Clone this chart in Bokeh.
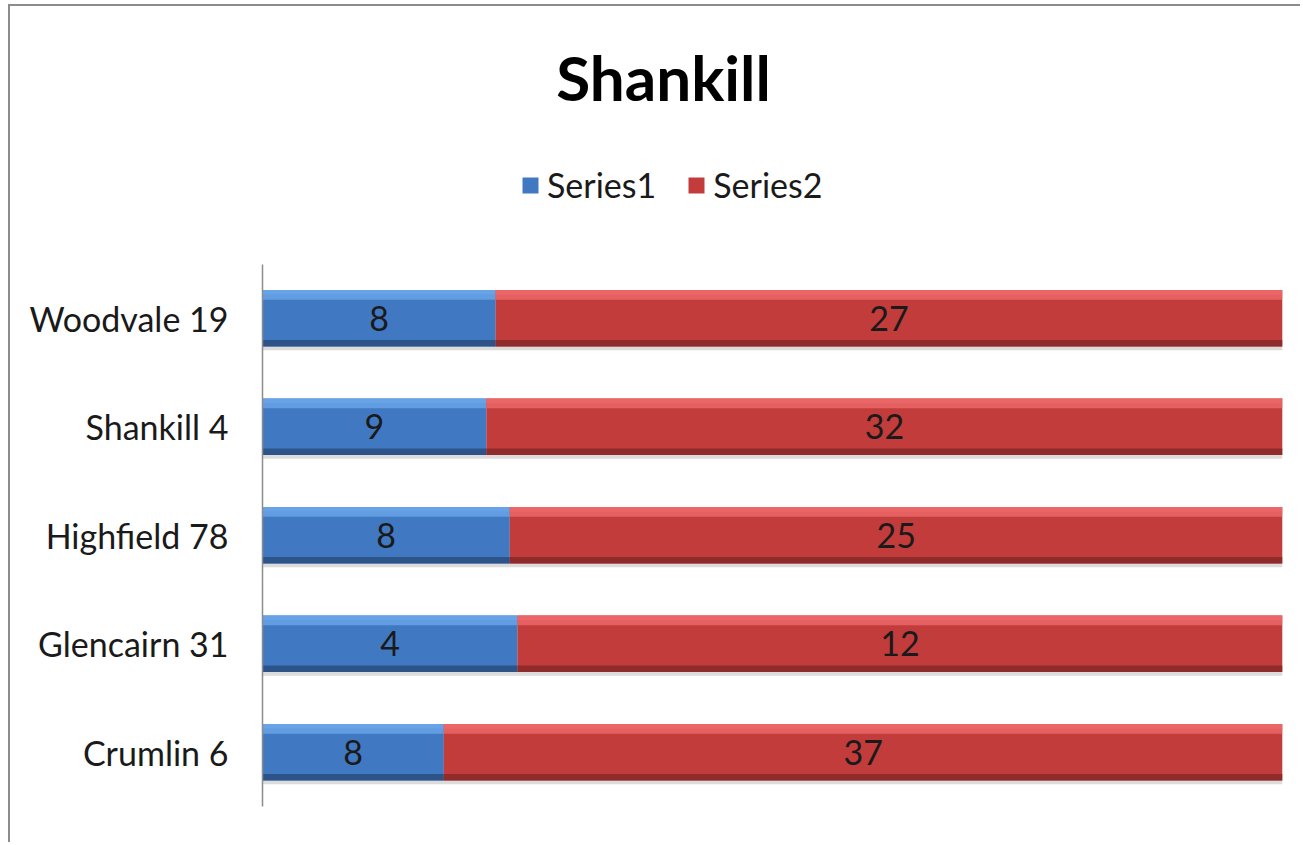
from bokeh.plotting import figure
from bokeh.models import (ColumnDataSource, Range1d, Legend, LegendItem, Label, FixedTicker)
from bokeh.transform import dodge
from bokeh.core.properties import value
from bokeh.embed import file_html
from bokeh.resources import INLINE

# ---- data ----
categories = ["Woodvale 19", "Shankill 4", "Highfield 78", "Glencairn 31", "Crumlin 6"]
series1 = [8, 9, 8, 4, 8]
series2 = [27, 32, 25, 12, 37]
series_names = ["Series1", "Series2"]
title_text = "Shankill"

n = len(categories)
ypos = [n - 1 - i for i in range(n)]          # first category on top
tot = [a + b for a, b in zip(series1, series2)]
f1 = [a / t for a, t in zip(series1, tot)]   # 100% stacked shares
src = ColumnDataSource(dict(
    y=ypos,
    l1=[0.0] * n, r1=f1,
    l2=f1, r2=[1.0] * n,
    m1=[v / 2 for v in f1], m2=[(v + 1) / 2 for v in f1],
    t1=[str(v) for v in series1], t2=[str(v) for v in series2],
))

FONT = "Lato"
W, H = 1292, 838
BORDER_BOTTOM = 38
BAND_PX = 108.5
frame_h = H - BORDER_BOTTOM
y_top = -0.5 + frame_h / BAND_PX

p = figure(width=W, height=H, output_backend="svg", toolbar_location=None,
           y_range=Range1d(-0.5, y_top), x_range=Range1d(0, 1),
           min_border_left=252, min_border_right=20, min_border_top=0,
           min_border_bottom=BORDER_BOTTOM)
p.styles = {"margin-left": "8px", "margin-top": "4px",
            "border-left": "2px solid #8c8c8c", "border-top": "2px solid #8c8c8c"}
p.outline_line_color = None
p.xgrid.visible = False
p.ygrid.visible = False
p.xaxis.visible = False
p.background_fill_color = "white"
p.border_fill_color = "white"

yax = p.yaxis[0]
yax.ticker = FixedTicker(ticks=ypos)
yax.major_label_overrides = {y: c for y, c in zip(ypos, categories)}
yax.bounds = (-0.5, n - 0.5)
yax.axis_line_color = "#8c8c8c"
yax.axis_line_width = 1.5
yax.major_tick_line_color = None
yax.minor_tick_line_color = None
yax.major_tick_out = 0
yax.major_tick_in = 0
yax.major_label_standoff = 34
yax.major_label_text_font = FONT
yax.major_label_text_font_size = "34px"
yax.major_label_text_color = "#1a1a1a"

BH = 0.52
# shadow
p.hbar(y=dodge("y", -0.035), left=0, right=1.003, height=BH, source=src,
       fill_color="#9a9a9a", fill_alpha=0.35, line_color=None)

blue = ("#4079c2", "#6aa6ea", "#2a4d7e")
red = ("#c23c3c", "#ee6a6a", "#872828")
mains = []
for (lk, rk), (main, light, dark) in [(("l1", "r1"), blue), (("l2", "r2"), red)]:
    r = p.hbar(y="y", left=lk, right=rk, height=BH, source=src,
               fill_color=main, line_color=None)
    mains.append(r)
    p.hbar(y=dodge("y", BH / 2 - 0.045), left=lk, right=rk, height=0.09, source=src,
           fill_color=light, fill_alpha=0.8, line_color=None)
    p.hbar(y=dodge("y", BH / 2 - 0.02), left=lk, right=rk, height=0.04, source=src,
           fill_color=light, fill_alpha=0.6, line_color=None)
    p.hbar(y=dodge("y", -BH / 2 + 0.03), left=lk, right=rk, height=0.06, source=src,
           fill_color=dark, fill_alpha=0.85, line_color=None)

for mk, tk in [("m1", "t1"), ("m2", "t2")]:
    p.text(x=mk, y="y", text=tk, source=src, text_align="center", text_baseline="middle",
           text_font=value(FONT), text_font_size="34px", text_color="#1a1a1a")

# title (screen px from frame bottom-left)
p.add_layout(Label(x=401, y=730, x_units="screen", y_units="screen", text=title_text,
                   text_font=FONT, text_font_style="bold", text_font_size="62px",
                   text_align="center", text_baseline="alphabetic", text_color="black"))

legend = Legend(items=[LegendItem(label=series_names[0], renderers=[mains[0]]),
                       LegendItem(label=series_names[1], renderers=[mains[1]])],
                orientation="horizontal", location=(258, 601),
                glyph_width=20, glyph_height=20, label_standoff=7, spacing=30,
                padding=0, margin=0, border_line_color=None, background_fill_alpha=0,
                label_text_font=FONT, label_text_font_size="34px", label_text_color="#1a1a1a")
p.add_layout(legend, "center")

open("out.html", "w").write(file_html(p, INLINE))
